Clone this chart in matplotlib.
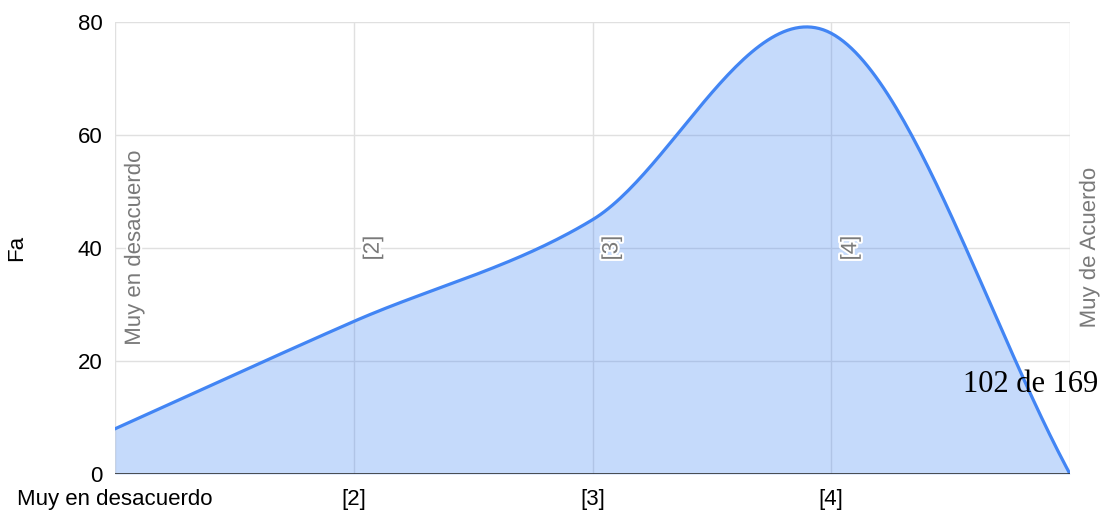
import numpy as np
import matplotlib.pyplot as plt
import matplotlib.patheffects as pe

# Respuestas por nivel de acuerdo
categorias = ["Muy en desacuerdo", "[2]", "[3]", "[4]", "Muy de Acuerdo"]
etiquetas_x = ["Muy en desacuerdo", "[2]", "[3]", "[4]", ""]
fa = [8, 27, 45, 78, 0]
y_ticks = [0, 20, 40, 60, 80]

AZUL = "#4285f4"
TAM = 16


def suavizar(y, pasos=60):
    # Catmull-Rom sobre índices enteros, como la curva "function" de Sheets
    y = np.asarray(y, dtype=float)
    n = len(y)
    ext = np.concatenate([[2 * y[0] - y[1]], y, [2 * y[-1] - y[-2]]])
    xs, ys = [], []
    for i in range(n - 1):
        p0, p1, p2, p3 = ext[i], ext[i + 1], ext[i + 2], ext[i + 3]
        m1 = (p2 - p0) / 2
        m2 = (p3 - p1) / 2
        t = np.linspace(0, 1, pasos, endpoint=(i == n - 2))
        h00 = 2 * t**3 - 3 * t**2 + 1
        h10 = t**3 - 2 * t**2 + t
        h01 = -2 * t**3 + 3 * t**2
        h11 = t**3 - t**2
        xs.append(i + t)
        ys.append(h00 * p1 + h10 * m1 + h01 * p2 + h11 * m2)
    return np.concatenate(xs), np.concatenate(ys)


plt.rcParams['font.family'] = ['Liberation Sans', 'DejaVu Sans']

fig = plt.figure(figsize=(11.03, 5.12), dpi=100)
ax = fig.add_axes([115 / 1103, 38 / 512, 955 / 1103, 452 / 512])

x = np.arange(len(categorias))
xs, ys = suavizar(fa)

ax.set_xlim(0, len(categorias) - 1)
ax.set_ylim(0, 80)
ax.set_yticks(y_ticks)
ax.set_xticks(x)
ax.set_xticklabels(etiquetas_x, fontsize=TAM)
ax.tick_params(axis="y", labelsize=TAM, length=0, pad=9)
ax.tick_params(axis="x", length=0, pad=11)
ax.grid(True, color="#e0e0e0", linewidth=1)
ax.set_axisbelow(True)
for s in ax.spines.values():
    s.set_visible(False)
ax.axhline(0, color="#333333", linewidth=1.2, zorder=4)

ax.fill_between(xs, ys, 0, color=AZUL, alpha=0.3, linewidth=0, zorder=2)
ax.plot(xs, ys, color=AZUL, linewidth=2.3, zorder=3)

# etiquetas verticales de cada categoría
for i, cat in enumerate(categorias):
    ax.annotate(cat, xy=(i, 40), xytext=(14, 0), textcoords="offset points",
                rotation=90, ha="center", va="center", fontsize=TAM,
                color="#7a7a7a", zorder=5,
                path_effects=[pe.withStroke(linewidth=3, foreground="white")])

ax.set_ylabel("Fa", fontsize=TAM)
ax.yaxis.set_label_coords(-88 / 955, 0.5)

fig.text(1031 / 1103, 1 - 385 / 512, "102 de 169", fontsize=22,
         family="Liberation Serif", ha="center", va="center", color="black")

fig.savefig("out.png", dpi=100)
